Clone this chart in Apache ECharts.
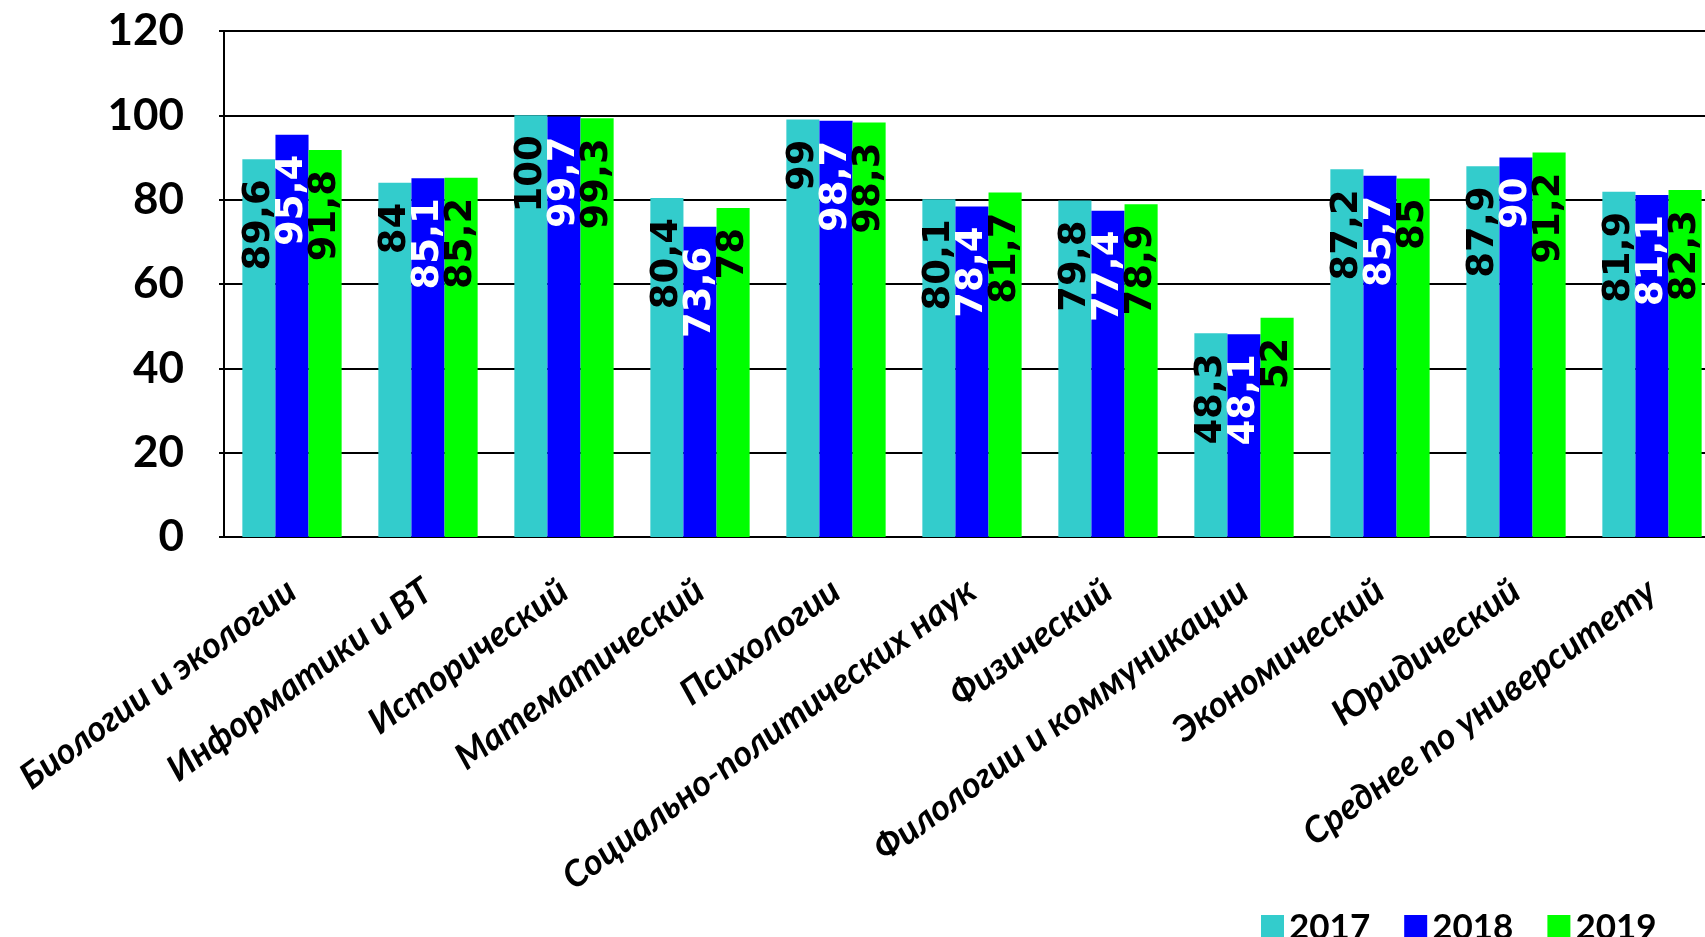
<!DOCTYPE html>
<html><head><meta charset="utf-8">
<script src="https://cdn.jsdelivr.net/npm/echarts@6/dist/echarts.min.js"></script>
<style>html,body{margin:0;padding:0;background:#fff}#c{width:1705px;height:937px}</style>
</head><body><div id="c"></div>
<script>
const categories = ["Биологии и экологии","Информатики и ВТ","Исторический","Математический","Психологии","Социально-политических наук","Физический","Филологии и коммуникации","Экономический","Юридический","Среднее по университету"];
const s2017 = [89.6,84,100,80.4,99,80.1,79.8,48.3,87.2,87.9,81.9];
const s2018 = [95.4,85.1,99.7,73.6,98.7,78.4,77.4,48.1,85.7,90,81.1];
const s2019 = [91.8,85.2,99.3,78,98.3,81.7,78.9,52,85,91.2,82.3];
const seriesNames = ["2017","2018","2019"];
const yTicks = [0,20,40,60,80,100,120];

const colors = ['#33CCCC','#0000FF','#00FF00'];
const labelColors = ['#000','#fff','#000'];
const humanist = 'Lato,"Open Sans",sans-serif';

function mk(i, data){
  return {
    name: seriesNames[i], type:'bar', data:data, barGap:'0%', barCategoryGap:'27%',
    itemStyle:{color:colors[i]},
    label:{show:true, position:'insideTop', rotate:90, align:'right', verticalAlign:'middle', distance:20,
      color:labelColors[i], fontFamily:'"DejaVu Sans",sans-serif', fontWeight:'bold', fontSize:37,
      formatter:p=>String(p.value).replace('.',',')}
  };
}
const chart = echarts.init(document.getElementById('c'));
chart.setOption({
  animation:false,
  grid:{left:224, top:31, width:1496, height:506, containLabel:false, outerBoundsMode:'none'},
  legend:{left:1256, top:905, itemWidth:23, itemHeight:25, itemGap:34, icon:'rect',
    textStyle:{fontFamily:humanist, fontWeight:'bold', fontSize:35, color:'#000'}, data:seriesNames},
  xAxis:{type:'category', data:categories,
    axisLine:{lineStyle:{color:'#000', width:2}}, axisTick:{show:false},
    axisLabel:{interval:0, rotate:36, margin:50, fontFamily:humanist, fontStyle:'italic', fontWeight:'bold', fontSize:36, color:'#000'}},
  yAxis:{type:'value', min:0, max:120, interval:20,
    axisLine:{show:true, lineStyle:{color:'#000', width:2}},
    axisTick:{show:true, length:5, lineStyle:{color:'#000', width:2}},
    splitLine:{lineStyle:{color:'#000', width:2}},
    axisLabel:{margin:40, fontFamily:humanist, fontWeight:'bold', fontSize:44, color:'#000',
      formatter:v=>yTicks.includes(v)?String(v):''}},
  series:[mk(0,s2017), mk(1,s2018), mk(2,s2019)]
});
</script></body></html>
